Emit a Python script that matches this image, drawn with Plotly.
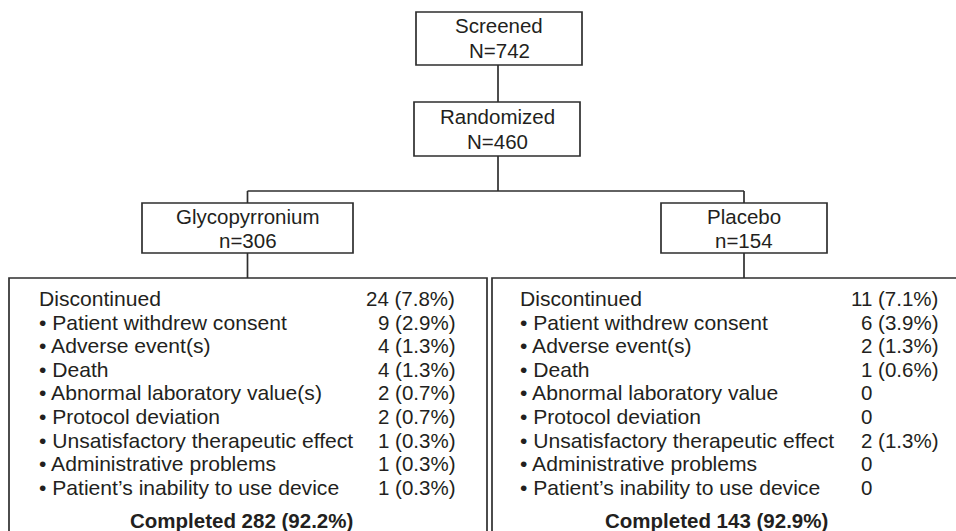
import plotly.graph_objects as go

# ---------------- data ----------------
screened_label = "Screened"
screened_n = 742
randomized_label = "Randomized"
randomized_n = 460

arm_names = ["Glycopyrronium", "Placebo"]
arm_n = [306, 154]

gly_reasons = [
    "Discontinued",
    "• Patient withdrew consent",
    "• Adverse event(s)",
    "• Death",
    "• Abnormal laboratory value(s)",
    "• Protocol deviation",
    "• Unsatisfactory therapeutic effect",
    "• Administrative problems",
    "• Patient’s inability to use device",
]
gly_counts = [24, 9, 4, 4, 2, 2, 1, 1, 1]
gly_pct = [7.8, 2.9, 1.3, 1.3, 0.7, 0.7, 0.3, 0.3, 0.3]

pbo_reasons = [
    "Discontinued",
    "• Patient withdrew consent",
    "• Adverse event(s)",
    "• Death",
    "• Abnormal laboratory value",
    "• Protocol deviation",
    "• Unsatisfactory therapeutic effect",
    "• Administrative problems",
    "• Patient’s inability to use device",
]
pbo_counts = [11, 6, 2, 1, 0, 0, 2, 0, 0]
pbo_pct = [7.1, 3.9, 1.3, 0.6, None, None, 1.3, None, None]

completed_n = [282, 143]
completed_pct = [92.2, 92.9]

# ---------------- layout geometry ----------------
W, H = 956, 531
LINE = "#2e2e2e"
TXT = "#231f20"
FONT = "Liberation Sans, Arial, sans-serif"
FS = 20.5
FS_LAB = 21.1
LW = 1.7

fig = go.Figure()
shapes = []
ann = []

def rect(x0, y0, x1, y1):
    shapes.append(dict(type="rect", xref="x", yref="y", x0=x0, y0=y0, x1=x1, y1=y1,
                       line=dict(color=LINE, width=LW), fillcolor="rgba(0,0,0,0)"))

def line(x0, y0, x1, y1):
    shapes.append(dict(type="line", xref="x", yref="y", x0=x0, y0=y0, x1=x1, y1=y1,
                       line=dict(color=LINE, width=LW)))

def text(x, y, s, anchor="center", bold=False, size=FS):
    ann.append(dict(x=x, y=y, xref="x", yref="y", text=(f"<b>{s}</b>" if bold else s),
                    showarrow=False, xanchor=anchor, yanchor="middle",
                    font=dict(family=FONT, size=size, color=TXT)))

# top boxes
rect(416, 12, 582, 65)
text(499, 25, screened_label)
text(499, 50, f"N={screened_n}")
line(498, 65, 498, 102)
rect(414, 102, 580, 156)
text(497, 116, randomized_label)
text(497, 141, f"N={randomized_n}")
line(498, 156, 498, 191)

# split
arm_cx = [247.5, 744]
arm_box = [(142, 353), (661, 827)]
line(arm_cx[0], 191, arm_cx[1], 191)
for i in range(2):
    line(arm_cx[i], 191, arm_cx[i], 203)
    rect(arm_box[i][0], 203, arm_box[i][1], 253)
    text((arm_box[i][0] + arm_box[i][1]) / 2, 216, arm_names[i])
    text((arm_box[i][0] + arm_box[i][1]) / 2, 240, f"n={arm_n[i]}")
    line(arm_cx[i], 253, arm_cx[i], 278)

# big boxes
rect(9, 278, 487, 545)
shapes.append(dict(type="path", xref="x", yref="y", path="M 970 278 L 492 278 L 492 545",
                   line=dict(color=LINE, width=LW)))

y0, dy = 298.5, 23.6
cols = [
    dict(lx=37, rx=457, zx=383, reasons=gly_reasons, counts=gly_counts, pct=gly_pct, cx=241),
    dict(lx=518, rx=940, zx=859, reasons=pbo_reasons, counts=pbo_counts, pct=pbo_pct, cx=716),
]
for k, c in enumerate(cols):
    for j, r in enumerate(c["reasons"]):
        y = y0 + j * dy
        text(c["lx"], y, r, anchor="left", size=FS_LAB)
        if c["pct"][j] is None:
            text(c["zx"], y, f"{c['counts'][j]}", anchor="left")
        else:
            text(c["rx"], y, f"{c['counts'][j]} ({c['pct'][j]:.1f}%)", anchor="right")
    text(c["cx"], 520, f"Completed {completed_n[k]} ({completed_pct[k]:.1f}%)", bold=True)

fig.update_layout(
    width=W, height=H, margin=dict(l=0, r=0, t=0, b=0),
    paper_bgcolor="white", plot_bgcolor="white",
    xaxis=dict(range=[0, W], visible=False, fixedrange=True),
    yaxis=dict(range=[H, 0], visible=False, fixedrange=True),
    shapes=shapes, annotations=ann, showlegend=False,
)
fig.write_html("out.html", config=dict(displayModeBar=False),
               post_script="document.body.style.margin='0';document.body.style.overflow='hidden';")
